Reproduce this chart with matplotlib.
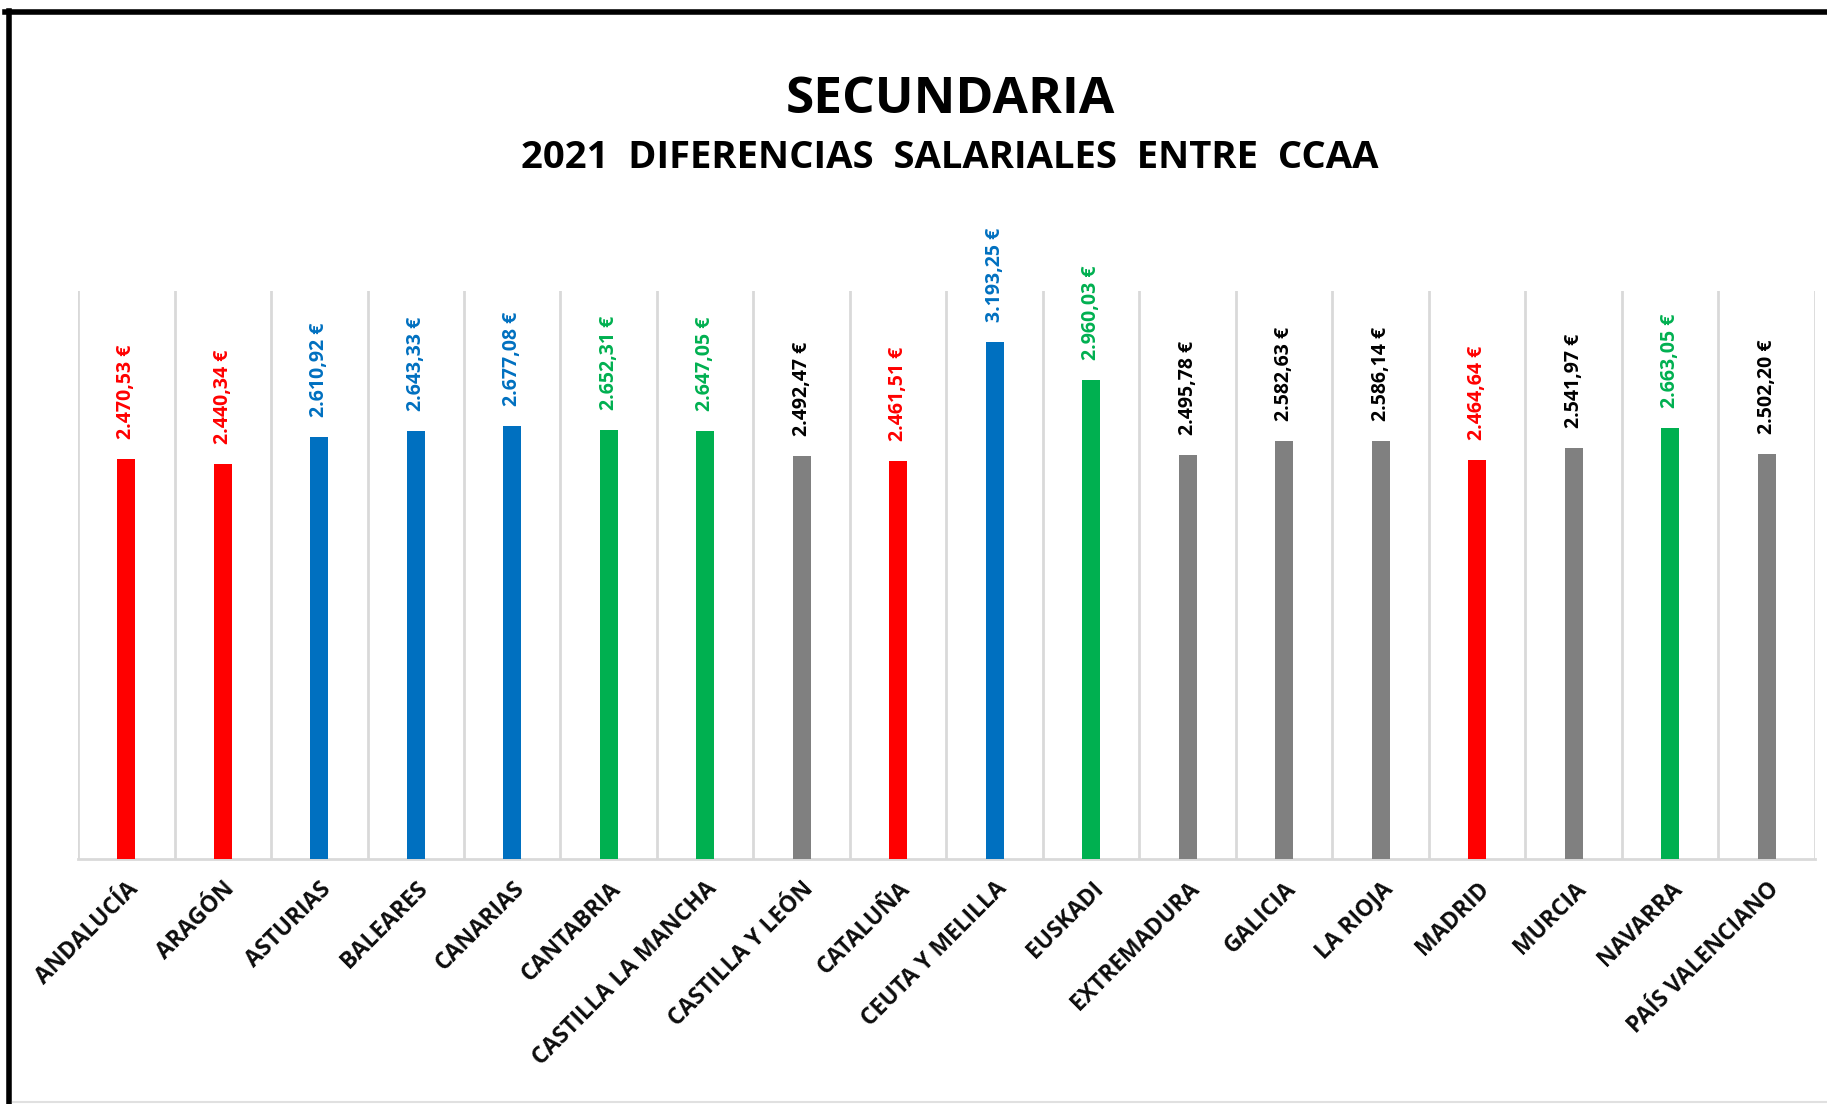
import matplotlib.pyplot as plt
from matplotlib.lines import Line2D

plt.rcParams['font.family'] = ['Open Sans', 'DejaVu Sans']

regiones = ["ANDALUCÍA", "ARAGÓN", "ASTURIAS", "BALEARES", "CANARIAS", "CANTABRIA",
            "CASTILLA LA MANCHA", "CASTILLA Y LEÓN", "CATALUÑA", "CEUTA Y MELILLA",
            "EUSKADI", "EXTREMADURA", "GALICIA", "LA RIOJA", "MADRID", "MURCIA",
            "NAVARRA", "PAÍS VALENCIANO"]
salarios = [2470.53, 2440.34, 2610.92, 2643.33, 2677.08, 2652.31,
            2647.05, 2492.47, 2461.51, 3193.25, 2960.03, 2495.78,
            2582.63, 2586.14, 2464.64, 2541.97, 2663.05, 2502.20]
grupos = ["r", "r", "b", "b", "b", "g", "g", "k", "r", "b", "g", "k",
          "k", "k", "r", "k", "g", "k"]

color_barra = {"r": "#FF0000", "b": "#0070C0", "g": "#00B050", "k": "#808080"}
color_texto = {"r": "#FF0000", "b": "#0070C0", "g": "#00B050", "k": "#000000"}


def euros(v):
    s = f"{v:,.2f}".replace(",", "X").replace(".", ",").replace("X", ".")
    return s + " €"


fig = plt.figure(figsize=(18.27, 11.04), dpi=100)
ax = fig.add_axes([0.0427, 0.2219, 0.9507, 0.5145])

x = list(range(len(regiones)))
ax.bar(x, salarios, width=0.19, color=[color_barra[g] for g in grupos], zorder=3)

for xi, v, g in zip(x, salarios, grupos):
    ax.annotate(euros(v), (xi, v), xytext=(0, 20), textcoords="offset pixels",
                rotation=90, ha="center", va="bottom", fontsize=14,
                fontweight="bold", color=color_texto[g])

ax.set_xlim(-0.5, len(regiones) - 0.5)
ax.set_ylim(0, 3510)
ax.set_yticks([])
for b in [i - 0.5 for i in range(len(regiones) + 1)]:
    ax.axvline(b, color="#D9D9D9", lw=2, zorder=1)
for s in ["top", "left", "right"]:
    ax.spines[s].set_visible(False)
ax.spines["bottom"].set_color("#D9D9D9")
ax.spines["bottom"].set_linewidth(2)

ax.set_xticks(x)
ax.set_xticklabels(regiones, rotation=45, ha="right", va="top",
                   rotation_mode="anchor", fontsize=16.5, fontweight="bold",
                   color="#0D0D0D")
ax.tick_params(axis="x", length=0, pad=13)

fig.text(0.52, 0.909, "SECUNDARIA", ha="center", va="center",
         fontsize=37, fontweight="bold")
fig.text(0.52, 0.857, "2021  DIFERENCIAS  SALARIALES  ENTRE  CCAA", ha="center",
         va="center", fontsize=27.5, fontweight="bold")

# marco
fig.add_artist(Line2D([0.005, 0.005], [0, 0.99], transform=fig.transFigure,
                      color="black", lw=4))
fig.add_artist(Line2D([0.003, 1], [0.9895, 0.9895], transform=fig.transFigure,
                      color="black", lw=4))
fig.add_artist(Line2D([0.007, 1], [0.0015, 0.0015], transform=fig.transFigure,
                      color="#E0E0E0", lw=1.5))

fig.savefig("out.png", dpi=100)
